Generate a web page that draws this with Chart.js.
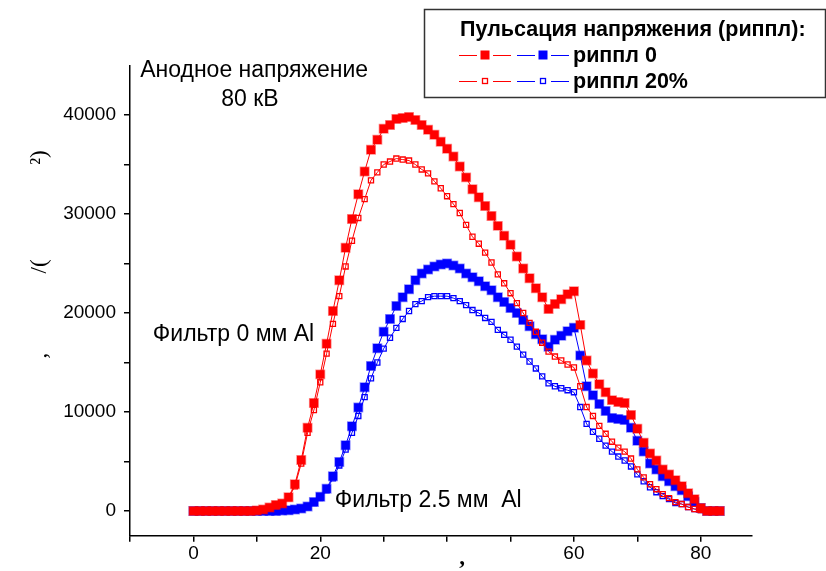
<!DOCTYPE html>
<html><head><meta charset="utf-8">
<script src="https://cdn.jsdelivr.net/npm/chart.js@4.4.0/dist/chart.umd.min.js"></script>
<style>html,body{margin:0;padding:0;background:#fff;}#wrap{width:826px;height:571px;position:relative;}</style>
</head><body><div id="wrap"><canvas id="c" width="826" height="571"></canvas></div>
<script>
// ---- data (energy, keV) ----
const energies = [0,1,2,3,4,5,6,7,8,9,10,11,12,13,14,15,16,17,18,19,20,21,22,23,24,25,26,27,28,29,30,31,32,33,34,35,36,37,38,39,40,41,42,43,44,45,46,47,48,49,50,51,52,53,54,55,56,57,58,59,60,61,62,63,64,65,66,67,68,69,70,71,72,73,74,75,76,77,78,79,80,81,82,83];
// filter 0 mm Al, ripple 0
const f0Ripple0 = [0,0,0,0,0,0,0,0,0,0,50,150,350,600,750,1400,2700,5150,8400,10900,13800,16900,20200,23300,26600,29500,32000,34300,36500,37500,38600,39000,39600,39700,39800,39500,39000,38500,38000,37300,36600,35800,34800,33700,32500,31700,30800,29800,28800,27800,26900,25700,24500,23500,22500,21600,20400,20900,21400,21900,22200,18800,15200,13900,12800,12000,11200,11000,10900,9700,8300,6900,5800,5100,4200,3700,3100,2500,1800,1200,300,0,0,0];
// filter 0 mm Al, ripple 20%
const f0Ripple20 = [0,0,0,0,0,0,0,0,0,0,50,150,300,500,700,1300,2500,4800,7900,10200,13000,15900,18900,21700,24700,27300,29600,31500,33400,34200,35000,35300,35600,35500,35400,35000,34500,34100,33300,32600,31800,31000,30100,28900,27700,27000,26100,25100,23900,23000,22000,21000,20000,19000,18100,17000,16100,15600,15200,14800,14500,12600,10500,9600,8600,7800,7000,6400,6000,5300,4200,3400,2700,2200,1700,1300,900,700,400,200,100,0,0,0];
// filter 2.5 mm Al, ripple 0
const f25Ripple0 = [0,0,0,0,0,0,0,0,0,0,0,0,0,0,40,80,150,250,450,900,1450,2250,3500,4950,6650,8550,10450,12500,14650,16450,18100,19400,20700,21600,22400,23300,24000,24400,24700,24900,25000,24800,24500,24000,23600,23200,22700,22300,21600,21100,20500,20000,19300,18650,17850,17350,16600,17300,17700,18150,18500,15700,12600,11700,10800,10100,9400,9300,9200,8400,7100,6000,4800,4200,3500,3000,2500,2100,1500,900,300,0,0,0];
// filter 2.5 mm Al, ripple 20%
const f25Ripple20 = [0,0,0,0,0,0,0,0,0,0,0,0,0,0,40,80,150,250,400,800,1300,2100,3300,4600,6200,7900,9600,11500,13400,15000,16400,17500,18500,19400,20200,20900,21200,21600,21700,21700,21700,21500,21200,20800,20300,20000,19500,19100,18300,17800,17300,16600,15800,15100,14400,13600,12900,12600,12400,12200,12000,10500,8800,8000,7300,6600,6000,5500,5100,4500,3700,3000,2400,1900,1500,1200,800,700,400,200,100,0,0,0];
// ticks
const xTickValues = [-10,0,10,20,30,40,50,60,70,80];
const xTickLabels = {0:'0',20:'20',60:'60',80:'80'};
const yTickValues = [0,5000,10000,15000,20000,25000,30000,35000,40000];
const yTickLabels = {0:'0',10000:'10000',20000:'20000',30000:'30000',40000:'40000'};
// texts
const legendTitle = 'Пульсация напряжения (риппл):';
const legendRows = ['риппл 0', 'риппл 20%'];
const notes = [
  {text:'Анодное напряжение', x:-8.4, y:44450, align:'left'},
  {text:'80 кВ', x:8.9, y:41550, align:'center'},
  {text:'Фильтр 0 мм Al', x:-6.4, y:17850, align:'left'},
  {text:'Фильтр 2.5 мм  Al', x:22.3, y:1000, align:'left'}
];
const yTitleParts = [[',', 15700], ['/(', 24700], ['²)', 35700]];
const xTitle = ',';

const RED = '#ff0000', BLUE = '#0000ff';
const RED_EDGE = 'rgba(255,0,0,0.45)', BLUE_EDGE = 'rgba(0,0,255,0.45)';
const pts = arr => energies.map((e,i)=>({x:e, y:arr[i]}));
function filledSet(label, arr, c, edge){
  return {label, data:pts(arr), showLine:true, borderColor:c, borderWidth:1,
    pointStyle:'rect', pointRadius:6, pointBackgroundColor:c, pointBorderColor:edge, pointBorderWidth:1.5};
}
function openSet(label, arr, c){
  return {label, data:pts(arr), showLine:true, borderColor:c, borderWidth:1,
    pointStyle:'rect', pointRadius:3.6, pointBackgroundColor:'rgba(0,0,0,0)', pointBorderColor:c, pointBorderWidth:1.3};
}

const overlay = {
  id:'overlay',
  afterDraw(chart){
    const ctx = chart.ctx, xs = chart.scales.x, ys = chart.scales.y;
    ctx.save();
    ctx.fillStyle = '#000';
    ctx.textBaseline = 'middle';
    ctx.font = '23px "Liberation Sans", Arial, sans-serif';
    notes.forEach(n=>{ ctx.textAlign = n.align; ctx.fillText(n.text, xs.getPixelForValue(n.x), ys.getPixelForValue(n.y)); });
    // y title (only punctuation glyphs are visible in the original)
    ctx.font = '23px "Liberation Serif", "Times New Roman", serif';
    ctx.textAlign = 'center';
    yTitleParts.forEach(p=>{
      ctx.save(); ctx.translate(40, ys.getPixelForValue(p[1])); ctx.rotate(-Math.PI/2); ctx.fillText(p[0],0,0); ctx.restore();
    });
    // x title
    ctx.font = 'bold 23px "Liberation Serif", serif';
    ctx.fillText(xTitle, 462, 558);
    // legend box
    ctx.strokeStyle = '#333'; ctx.lineWidth = 1.5;
    ctx.strokeRect(424.5, 9.5, 401, 88);
    ctx.textAlign = 'left';
    ctx.font = 'bold 21.5px "Liberation Sans", Arial, sans-serif';
    ctx.fillText(legendTitle, 460, 30);
    const rowsY = [55, 81];
    rowsY.forEach((ry, ri)=>{
      [[RED,459],[BLUE,517]].forEach(([c,x0])=>{
        ctx.strokeStyle = c; ctx.lineWidth = 1;
        ctx.beginPath(); ctx.moveTo(x0, ry+0.5); ctx.lineTo(x0+18, ry+0.5); ctx.moveTo(x0+34, ry+0.5); ctx.lineTo(x0+52, ry+0.5); ctx.stroke();
        const mx = x0+26;
        if(ri===0){ ctx.fillStyle = c; ctx.fillRect(mx-4.5, ry-4.5, 9, 9); }
        else { ctx.strokeStyle = c; ctx.lineWidth = 1.3; ctx.strokeRect(mx-2.5, ry-2.5, 5, 5); }
      });
      ctx.fillStyle = '#000';
      ctx.fillText(legendRows[ri], 573, ry+1);
    });
    ctx.restore();
  }
};

new Chart(document.getElementById('c'), {
  type:'scatter',
  data:{datasets:[
    filledSet('риппл 0, фильтр 0 мм Al', f0Ripple0, RED, RED_EDGE),
    openSet('риппл 20%, фильтр 0 мм Al', f0Ripple20, RED),
    filledSet('риппл 0, фильтр 2.5 мм Al', f25Ripple0, BLUE, BLUE_EDGE),
    openSet('риппл 20%, фильтр 2.5 мм Al', f25Ripple20, BLUE)
  ]},
  options:{
    responsive:false, animation:false, devicePixelRatio:1,
    layout:{padding:{top:65.5, right:74.5, left:0, bottom:0}},
    plugins:{legend:{display:false}, tooltip:{enabled:false}},
    scales:{
      x:{type:'linear', min:-10, max:88,
        afterBuildTicks(s){ s.ticks = xTickValues.map(v=>({value:v})); },
        afterFit(s){ s.height = 35.25; },
        ticks:{callback:v=>xTickLabels[v]||'', color:'#000', padding:1, maxRotation:0, autoSkip:false,
          font:{family:'"Liberation Sans", Arial, sans-serif', size:19}},
        grid:{drawOnChartArea:false, drawTicks:true, tickLength:6, color:'#000', lineWidth:1.5},
        border:{display:true, color:'#000', width:1.5}
      },
      y:{type:'linear', min:-2500, max:45000,
        afterBuildTicks(s){ s.ticks = yTickValues.map(v=>({value:v})); },
        afterFit(s){ s.width = 130; },
        ticks:{callback:v=>yTickLabels[v]||'', color:'#000', padding:8, autoSkip:false,
          font:{family:'"Liberation Sans", Arial, sans-serif', size:19}},
        grid:{drawOnChartArea:false, drawTicks:true, tickLength:6, color:'#000', lineWidth:1.5},
        border:{display:true, color:'#000', width:1.5}
      }
    }
  },
  plugins:[overlay]
});
</script></body></html>
